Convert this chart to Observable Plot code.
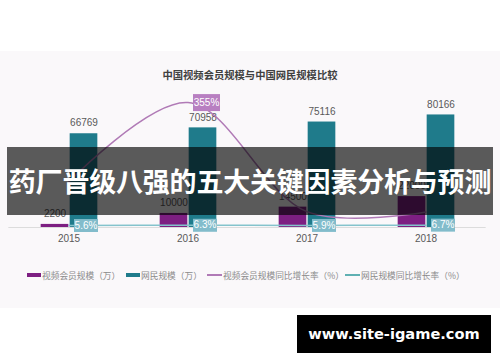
<!DOCTYPE html>
<html>
<head>
<meta charset="utf-8">
<script src="https://cdn.jsdelivr.net/npm/d3@7"></script>
<script src="https://cdn.jsdelivr.net/npm/@observablehq/plot@0.6"></script>
<style>
  html, body { margin: 0; padding: 0; }
  body { width: 500px; height: 362px; position: relative; overflow: hidden; background: #fff;
         font-family: "Noto Sans CJK SC", "Noto Sans", sans-serif; }
  .abs { position: absolute; }
  #panel { left: 0; top: 51px; width: 500px; height: 257px; background: #faf8fa; }
  #title { left: 0; width: 500px; top: 67px; text-align: center; font-size: 10.3px; font-weight: 700;
           color: #404040; line-height: 16px; }
  .layer { left: 0; top: 0; }
  .leg { top: 268px; height: 14px; display: flex; align-items: center; font-size: 8.7px; color: #8a8a8a; white-space: nowrap; }
  .sw { width: 14px; height: 4px; margin-right: 1px; }
  .ln { width: 15px; height: 1.5px; margin-right: 1px; }
  #banner { left: 7px; top: 147px; width: 486px; height: 68px; background: rgba(0,0,0,0.64);
            color: #fff; font-size: 27px; font-weight: 700; text-align: center; line-height: 68px;
            letter-spacing: -0.2px; white-space: nowrap; }
  #wm { left: 297px; top: 315px; width: 194px; height: 38px; background: #000; color: #fff;
        font-family: "DejaVu Sans", sans-serif; font-weight: 700; font-size: 14.6px; text-align: center; line-height: 38px; }
</style>
</head>
<body>
<div id="panel" class="abs"></div>
<div id="title" class="abs">中国视频会员规模与中国网民规模比较</div>
<div id="bars" class="abs layer"></div>
<div id="lines" class="abs layer"></div>
<div id="legend"></div>
<div id="banner" class="abs">药厂晋级八强的五大关键因素分析与预测</div>
<div id="wm" class="abs">www.site-igame.com</div>
<script>
// ---- data ----
const years = ["2015", "2016", "2017", "2018"];
const memberScale = [2200, 10000, 14500, 22000];          // 视频会员规模（万）
const netizenScale = [66769, 70958, 75116, 80166];        // 网民规模（万）
const memberGrowth = [130, 355, 45, 44];                  // 视频会员规模同比增长率（%）
const memberGrowthLabels = ["", "355%", "", ""];
const netizenGrowth = [5.6, 6.3, 5.9, 6.7];               // 网民规模同比增长率（%）
const netizenGrowthLabels = ["5.6%", "6.3%", "5.9%", "6.7%"];
const seriesNames = ["视频会员规模（万）", "网民规模（万）", "视频会员规模同比增长率（%）", "网民规模同比增长率（%）"];

// ---- styles ----
const PURPLE = "#7d1f82", TEAL = "#1f7b8b", PURPLE_LINE = "#b07ab6", TEAL_LINE = "#84c3cc";
const PURPLE_BOX = "#b87fc1", TEAL_BOX = "#82bccb";
const W = 500, H = 362, mTop = 31, mBottom = 135, mLeft = 8.33, mRight = 14.33;

const rows = years.map((year, i) => ({
  year, member: memberScale[i], netizen: netizenScale[i],
  mg: memberGrowth[i], mgl: memberGrowthLabels[i],
  ng: netizenGrowth[i], ngl: netizenGrowthLabels[i]
}));

function boxSymbol(w, h) {
  return { draw(ctx) { ctx.rect(-w / 2, -h / 2, w, h); } };
}

const numFont = "Liberation Sans, Arial, sans-serif";

const barsPlot = Plot.plot({
  width: W, height: H,
  marginTop: mTop, marginBottom: mBottom, marginLeft: mLeft, marginRight: mRight,
  x: { type: "band", domain: years, padding: 0 },
  y: { domain: [0, 139600], axis: null },
  style: { background: "transparent", overflow: "visible", fontFamily: numFont },
  marks: [
    Plot.ruleY([0], { stroke: "#dcdcdc", strokeWidth: 1 }),
    Plot.barY(rows, { x: "year", y: "member", fill: PURPLE, insetLeft: 31.67, insetRight: 59.67 }),
    Plot.barY(rows, { x: "year", y: "netizen", fill: TEAL, insetLeft: 60.67, insetRight: 30.67 }),
    Plot.text(rows, { x: "year", y: "member", text: d => String(d.member), dx: -14, dy: -10.5,
      fontSize: 10, fill: "#595959", fontFamily: numFont }),
    Plot.text(rows, { x: "year", y: "netizen", text: d => String(d.netizen), dx: 15, dy: -10.5,
      fontSize: 10, fill: "#595959", fontFamily: numFont }),
    Plot.axisX({ tickSize: 0, tickPadding: 7, fontSize: 10, color: "#595959", label: null, fontFamily: numFont })
  ]
});
document.getElementById("bars").appendChild(barsPlot);

const linesPlot = Plot.plot({
  width: W, height: H,
  marginTop: mTop, marginBottom: mBottom, marginLeft: mLeft, marginRight: mRight,
  x: { type: "band", domain: years, padding: 0, axis: null },
  y: { domain: [0, 557], axis: null },
  style: { background: "transparent", overflow: "visible", fontFamily: numFont },
  marks: [
    Plot.line(rows, { x: "year", y: "ng", stroke: TEAL_LINE, strokeWidth: 1.5, curve: "catmull-rom" }),
    Plot.line(rows, { x: "year", y: "mg", stroke: PURPLE_LINE, strokeWidth: 1.5, curve: "catmull-rom" }),
    Plot.dot(rows.filter(d => d.mgl), { x: "year", y: "mg", symbol: boxSymbol(27, 17), fill: PURPLE_BOX, stroke: "none", dx: 18.5 }),
    Plot.text(rows.filter(d => d.mgl), { x: "year", y: "mg", text: "mgl", dx: 18.5, fill: "#fff", fontSize: 10, fontFamily: numFont }),
    Plot.dot(rows, { x: "year", y: "ng", symbol: boxSymbol(24, 13), fill: TEAL_BOX, stroke: "none", dx: 17 }),
    Plot.text(rows, { x: "year", y: "ng", text: "ngl", dx: 17, fill: "#fff", fontSize: 10, fontFamily: numFont })
  ]
});
document.getElementById("lines").appendChild(linesPlot);

// ---- legend ----
const legendItems = [
  { name: seriesNames[0], kind: "sw", color: PURPLE, left: 27 },
  { name: seriesNames[1], kind: "sw", color: TEAL, left: 126 },
  { name: seriesNames[2], kind: "ln", color: PURPLE_LINE, left: 207 },
  { name: seriesNames[3], kind: "ln", color: "#5fb0b2", left: 345 }
];
const legend = document.getElementById("legend");
legendItems.forEach(it => {
  const d = document.createElement("div");
  d.className = "abs leg";
  d.style.left = it.left + "px";
  const s = document.createElement("span");
  s.className = it.kind;
  s.style.background = it.color;
  const t = document.createElement("span");
  t.textContent = it.name;
  d.appendChild(s); d.appendChild(t);
  legend.appendChild(d);
});
</script>
</body>
</html>
